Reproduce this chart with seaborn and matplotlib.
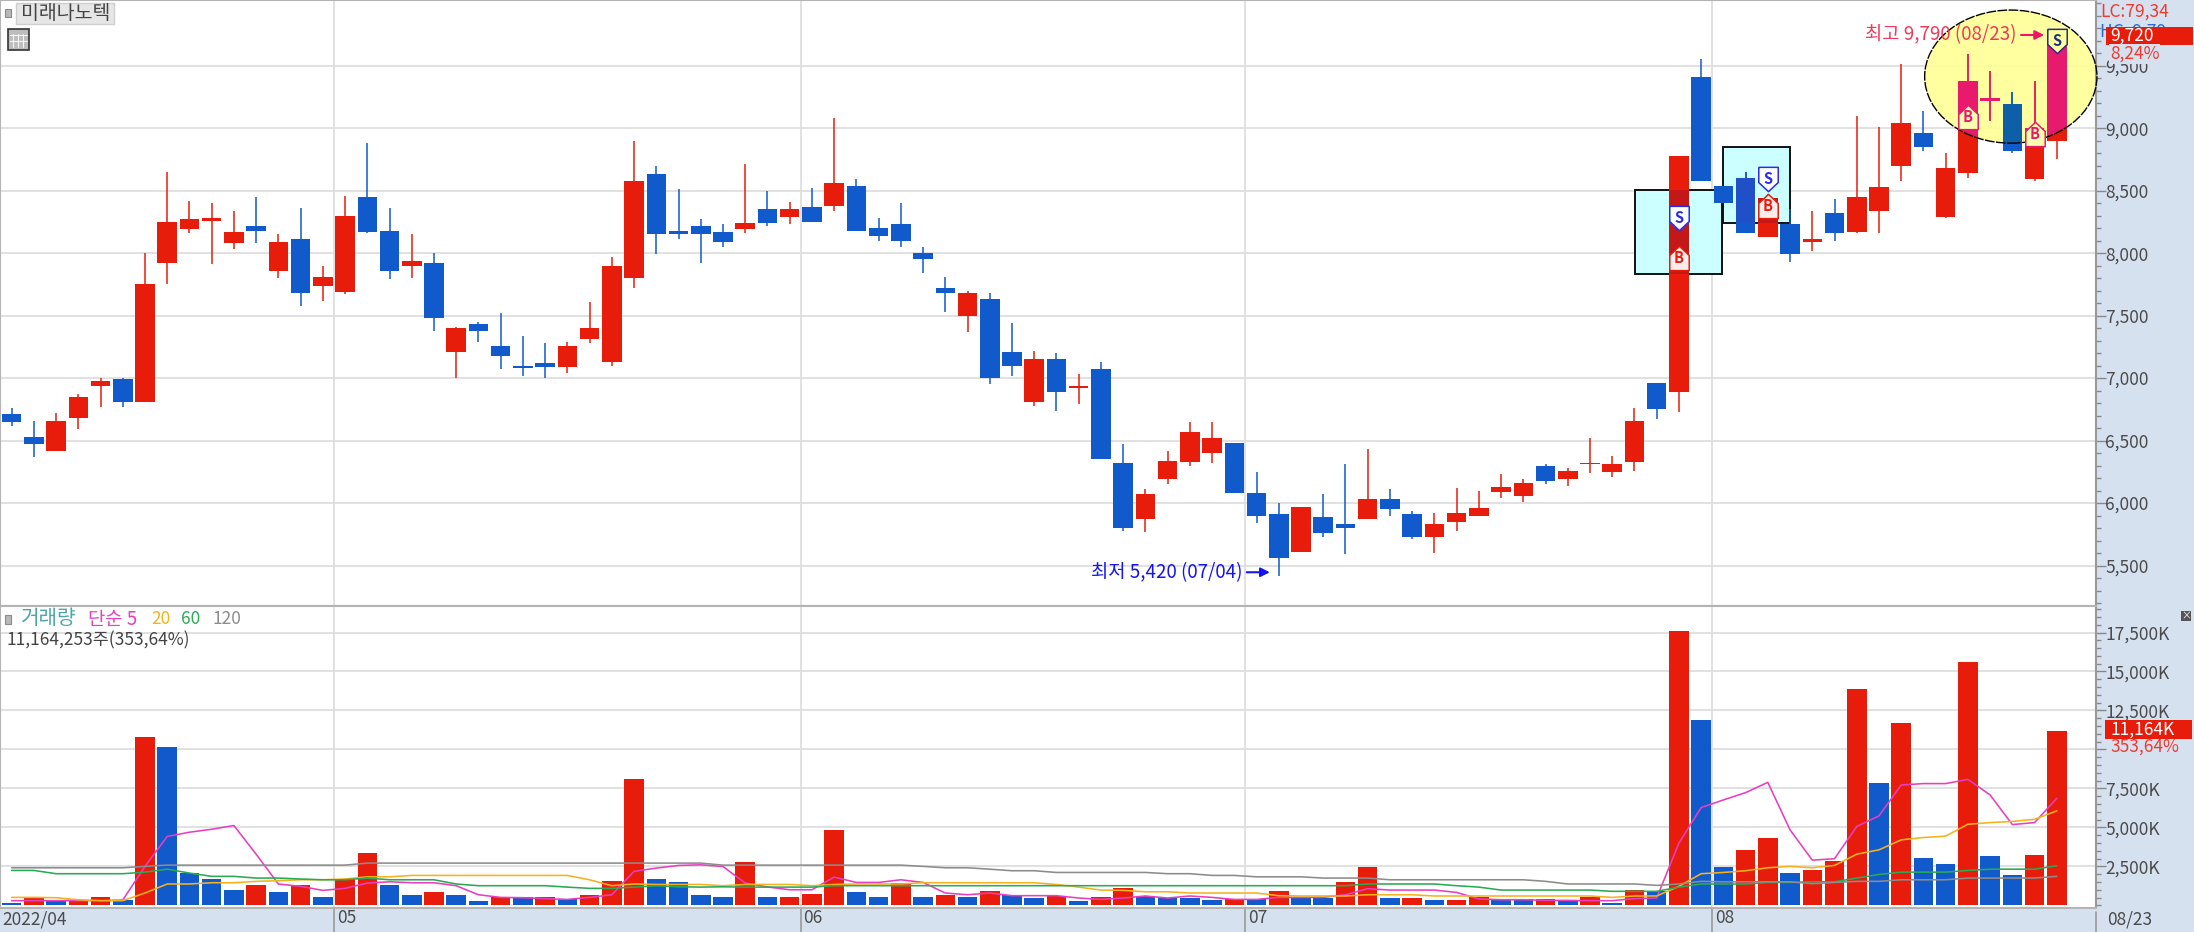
"""
Candlestick and volume chart, seaborn version of the HTS screen
"""

import numpy as np
import pandas as pd
import matplotlib
matplotlib.use('Agg')
import matplotlib.pyplot as plt
import seaborn as sns
from matplotlib.patches import Ellipse, Rectangle
from matplotlib.ticker import MultipleLocator
from matplotlib.transforms import Affine2D, ScaledTranslation

opens = [6710, 6530, 6420, 6680, 6940, 6990, 6810, 7920, 8190, 8260, 8080, 8220, 7860, 8110, 7740, 7690, 8450, 8180, 7900, 7920, 7210, 7430, 7260, 7100, 7120, 7090, 7310, 7130, 7800, 8630, 8180, 8220, 8170,
         8190, 8350, 8290, 8370, 8380, 8540, 8200, 8230, 8000, 7720, 7500, 7630, 7210, 6810, 7150, 6920, 7070, 6320, 5870, 6190, 6330, 6400, 6480, 6080, 5910, 5610, 5890, 5830, 5870, 6030, 5910, 5730, 5850,
         5900, 6090, 6060, 6300, 6190, 6310, 6250, 6330, 6960, 6890, 9410, 8540, 8600, 8130, 8230, 8090, 8320, 8170, 8340, 8700, 8960, 8290, 8640, 9220, 9190, 8590, 8900]
highs = [6760, 6660, 6720, 6870, 7000, 7000, 8000, 8650, 8420, 8400, 8340, 8450, 8150, 8360, 7900, 8460, 8880, 8360, 8150, 8000, 7410, 7450, 7520, 7340, 7280, 7290, 7610, 7970, 8900, 8700, 8510, 8270, 8230,
         8710, 8500, 8410, 8520, 9080, 8590, 8280, 8400, 8050, 7810, 7700, 7680, 7440, 7220, 7200, 7030, 7130, 6470, 6110, 6420, 6650, 6650, 6480, 6250, 6000, 5970, 6070, 6310, 6430, 6110, 5940, 5920, 6120,
         6100, 6230, 6190, 6310, 6280, 6520, 6380, 6760, 6960, 8780, 9550, 8540, 8650, 8470, 8350, 8340, 8430, 9100, 9010, 9510, 9140, 8800, 9590, 9460, 9290, 9380, 9790]
lows = [6620, 6370, 6420, 6590, 6770, 6770, 6810, 7750, 8160, 7910, 8030, 8080, 7800, 7580, 7620, 7670, 8160, 7790, 7800, 7380, 7000, 7290, 7070, 7020, 7000, 7040, 7280, 7100, 7720, 7990, 8110, 7920, 8050,
        8160, 8220, 8230, 8250, 8340, 8180, 8100, 8050, 7840, 7530, 7370, 6950, 7020, 6780, 6740, 6790, 6350, 5780, 5770, 6150, 6300, 6320, 6080, 5840, 5420, 5610, 5730, 5590, 5870, 5900, 5710, 5600, 5780,
        5900, 6040, 6010, 6150, 6140, 6240, 6210, 6260, 6670, 6730, 8580, 8400, 8160, 8130, 7930, 8020, 8100, 8160, 8160, 8580, 8820, 8280, 8600, 9060, 8800, 8580, 8750]
closes = [6650, 6470, 6660, 6850, 6980, 6810, 7750, 8250, 8270, 8280, 8170, 8180, 8090, 7680, 7810, 8300, 8170, 7860, 7940, 7480, 7400, 7380, 7180, 7080, 7090, 7260, 7400, 7900, 8580, 8150, 8150, 8150, 8090,
          8240, 8240, 8350, 8250, 8560, 8180, 8140, 8100, 7950, 7680, 7680, 7000, 7100, 7150, 6890, 6940, 6350, 5800, 6070, 6340, 6570, 6520, 6080, 5900, 5560, 5970, 5760, 5800, 6030, 5950, 5730, 5830, 5920,
          5960, 6130, 6160, 6180, 6260, 6320, 6310, 6660, 6750, 8780, 8580, 8400, 8160, 8440, 7990, 8110, 8160, 8450, 8530, 9040, 8850, 8680, 9380, 9240, 8820, 9000, 9720]

volume_k = [150, 470, 300, 300, 530, 340, 10810, 10150, 2090, 1660, 1000, 1300, 830, 1300, 530, 1660, 3330, 1300, 640, 830, 640, 260, 530, 530, 530, 430, 640, 1580, 8130, 1690, 1490, 640, 530,
            2750, 530, 530, 730, 4860, 830, 530, 1430, 530, 640, 530, 920, 640, 450, 580, 260, 530, 1110, 580, 470, 450, 340, 430, 410, 920, 470, 470, 1490, 2450, 450, 450, 340, 340,
            530, 410, 410, 410, 300, 530, 170, 1000, 900, 17620, 11860, 2450, 3520, 4290, 2070, 2260, 2820, 13890, 7830, 11670, 3030, 2650, 15610, 3140, 1960, 3220, 11164]
red_volume_days = [1, 3, 4, 6, 11, 13, 15, 16, 19, 22, 24, 26, 27, 28,
                   33, 35, 36, 37, 40, 42, 44, 47, 49, 50, 55, 57, 60, 61, 63, 65,
                   66, 69, 71, 73, 75, 78, 79, 81, 82, 83, 85, 88, 91, 92]

ma5 = [300, 300, 300, 300, 300, 340, 2500, 4420, 4690, 4880, 5120, 3280, 1370, 1220, 960, 1090, 1430, 1510, 1450, 1450, 1260, 680, 510, 490, 430, 380, 510, 680, 2180, 2390, 2560, 2600, 2490,
       1430, 1180, 1000, 1000, 1810, 1470, 1470, 1640, 1470, 790, 680, 790, 620, 620, 620, 470, 380, 470, 600, 470, 600, 510, 380, 380, 510, 510, 510, 680, 1070, 980, 980, 980, 830,
       410, 360, 360, 320, 320, 300, 300, 430, 470, 3990, 6270, 6760, 7230, 7890, 4840, 2900, 2990, 5060, 5740, 7720, 7810, 7810, 8080, 7080, 5180, 5310, 6870]
ma20 = [510, 510, 490, 360, 300, 300, 790, 1370, 1370, 1450, 1450, 1540, 1580, 1640, 1640, 1690, 1830, 1830, 1920, 1920, 1920, 1920, 1920, 1920, 1920, 1920, 1640, 1260, 1370, 1340, 1340, 1340, 1260,
        1340, 1340, 1340, 1260, 1340, 1370, 1370, 1370, 1450, 1450, 1450, 1450, 1450, 1450, 1340, 1170, 980, 960, 870, 870, 790, 790, 790, 790, 620, 600, 600, 600, 680, 680, 680, 600, 600,
        600, 600, 600, 600, 600, 600, 510, 600, 600, 1220, 2030, 2110, 2220, 2410, 2500, 2410, 2560, 3280, 3560, 4200, 4350, 4440, 5200, 5310, 5380, 5520, 6060]
ma60 = [2240, 2240, 2030, 2030, 2030, 2030, 2130, 2320, 2070, 1860, 1860, 1750, 1750, 1690, 1640, 1640, 1750, 1640, 1640, 1640, 1370, 1260, 1260, 1260, 1260, 1170, 1090, 1090, 1170, 1260, 1190, 1170, 1190,
        1170, 1170, 1170, 1170, 1260, 1260, 1260, 1260, 1260, 1260, 1260, 1260, 1260, 1260, 1260, 1260, 1260, 1260, 1260, 1260, 1260, 1260, 1260, 1260, 1260, 1260, 1260, 1260, 1370, 1370, 1370, 1370, 1260,
        1170, 980, 980, 980, 980, 980, 900, 900, 900, 1170, 1370, 1370, 1370, 1470, 1470, 1510, 1510, 1750, 1980, 2130, 2130, 2130, 2240, 2320, 2320, 2320, 2540]
ma120 = [2410, 2410, 2410, 2410, 2410, 2410, 2500, 2580, 2580, 2580, 2580, 2580, 2580, 2580, 2580, 2580, 2710, 2710, 2710, 2710, 2710, 2710, 2710, 2710, 2710, 2710, 2710, 2710, 2710, 2710, 2710, 2710, 2580,
         2580, 2580, 2580, 2580, 2580, 2580, 2580, 2580, 2500, 2410, 2410, 2320, 2220, 2220, 2110, 2110, 2110, 2110, 2110, 2030, 2030, 1920, 1920, 1830, 1830, 1830, 1750, 1750, 1750, 1640, 1640, 1640, 1640,
         1640, 1640, 1640, 1540, 1370, 1370, 1370, 1370, 1280, 1370, 1540, 1510, 1510, 1510, 1510, 1390, 1470, 1540, 1540, 1640, 1640, 1640, 1750, 1750, 1750, 1750, 1860]

month_edges = [14.5, 35.5, 55.5, 76.5]
month_labels = ['05', '06', '07', '08']
price_ticks = [5500, 6000, 6500, 7000, 7500, 8000, 8500, 9000, 9500]
volume_ticks = [2500, 5000, 7500, 10000, 12500, 15000, 17500]
# the 10,000K label sits under the last volume tag in the reference
volume_tick_labels = ['2,500K', '5,000K', '7,500K', '', '12,500K', '15,000K', '17,500K']

# signal flags: kind, candle, price at the flag centre
flags = [('S', 75, 8282), ('B', 75, 7964), ('S', 79, 8593), ('B', 79, 8375),
         ('B', 88, 9092), ('B', 91, 8951), ('S', 92, 9699)]

RED = '#E81C0A'
BLUE = '#115ACB'
PINK = '#E81A6E'
STRIP = '#D6E1F0'
GRID = '#DEDEDE'
TEXT = '#4A4A4A'
FONT = ['Noto Sans CJK KR', 'DejaVu Sans']
WIDTH, HEIGHT = 2194, 932


def draw_candles(ax, up, down, zorder, clip=None, only=None):
    """Wicks and bodies, optionally clipped to a shape"""
    x = np.arange(len(opens)) if only is None else np.array(only)
    o, h, l, c = [np.array(v)[x] for v in (opens, highs, lows, closes)]
    colors = [up if b >= a else down for a, b in zip(o, c)]
    wicks = ax.vlines(x, l, h, colors=colors, lw=1.1, zorder=zorder)
    bodies = ax.bar(x, np.abs(c - o), bottom=np.minimum(o, c), width=0.88,
                    color=colors, linewidth=0, zorder=zorder)
    if clip is not None:
        wicks.set_clip_path(clip)
        for body in bodies:
            body.set_clip_path(clip)


def draw_flag(ax, kind, day, price, in_circle):
    """Small pentagon flag with a letter"""
    if kind == 'S':
        verts = [(-0.8, 1), (0.8, 1), (0.8, -0.25), (0, -1), (-0.8, -0.25), (-0.8, 1)]
        edge, fill = ('#1F2F8C', '#FFFF99') if in_circle else ('#2A2AF0', '#FFFFFF')
    else:
        verts = [(-0.8, -1), (0.8, -1), (0.8, 0.25), (0, 1), (-0.8, 0.25), (-0.8, -1)]
        edge, fill = (PINK, '#FFFFB0') if in_circle else (RED, '#FFECEC')
    ax.plot([day], [price], marker=verts, markersize=17.5, markerfacecolor=fill,
            markeredgecolor=edge, markeredgewidth=1.1, linestyle='none', zorder=8)
    ax.text(day, price, kind, color=edge, fontsize=10.5, fontweight='bold',
            ha='center', va='center', zorder=9, family=FONT)


def main():
    sns.set_theme(style='white')
    plt.rcParams['font.family'] = FONT
    plt.rcParams['axes.unicode_minus'] = False

    fig = plt.figure(figsize=(WIDTH / 100, HEIGHT / 100), dpi=100, facecolor=STRIP)
    to_px = Affine2D().scale(1 / WIDTH, -1 / HEIGHT).translate(0, 1) + fig.transFigure

    right = 2095.5 / WIDTH
    ax_p = fig.add_axes([0, 1 - 606 / HEIGHT, right, 606 / HEIGHT])
    ax_v = fig.add_axes([0, 24 / HEIGHT, right, 302 / HEIGHT])

    days = np.arange(len(opens))
    xlim = (-0.522, 93.74)

    # price panel
    ax_p.set_xlim(xlim)
    ax_p.set_ylim(5176, 10026)

    circle = Ellipse((89.93, 9413), 7.75, 1065, facecolor='#FFFF99', edgecolor='none',
                     alpha=0.93, zorder=1.5, clip_on=False)
    ax_p.add_patch(circle)
    ax_p.add_patch(Ellipse((89.93, 9413), 7.75, 1065, facecolor='none', edgecolor='black',
                           linestyle=(0, (7, 1)), lw=1.0, zorder=7, clip_on=False))

    box1 = Rectangle((73.03, 7832), 3.91, 673, facecolor='#CCFFFF', edgecolor='#111111', lw=1.4, zorder=1.6)
    box2 = Rectangle((76.99, 8241), 3.01, 608, facecolor='#CCFFFF', edgecolor='#111111', lw=1.4, zorder=1.6)
    ax_p.add_patch(box1)
    ax_p.add_patch(box2)

    draw_candles(ax_p, RED, BLUE, zorder=3)
    draw_candles(ax_p, '#C41818', BLUE, zorder=4, clip=box1, only=[75])
    draw_candles(ax_p, '#C41818', '#2050C8', zorder=4, clip=box2, only=[78, 79])
    draw_candles(ax_p, PINK, '#0F5FA8', zorder=5, clip=circle, only=[88, 89, 90, 91, 92])

    for kind, day, price in flags:
        draw_flag(ax_p, kind, day, price, day >= 88)

    ax_p.annotate('최고 9,790 (08/23)', xy=(91.43, 9746), xytext=(-20, 0), textcoords='offset points',
                  ha='right', va='center', fontsize=13.5, color='#F03A5A', zorder=10,
                  arrowprops=dict(arrowstyle='-|>', color='#F01464', lw=1.5, shrinkA=1, shrinkB=0))
    ax_p.annotate('최저 5,420 (07/04)', xy=(56.6, 5446), xytext=(-20, 0), textcoords='offset points',
                  ha='right', va='center', fontsize=13.5, color='#1414F0', zorder=10,
                  arrowprops=dict(arrowstyle='-|>', color='#1414F0', lw=1.5, shrinkA=1, shrinkB=0))

    # volume panel
    table = pd.DataFrame({'day': days, 'volume': volume_k,
                          'side': ['up' if d in red_volume_days else 'down' for d in days]})
    sns.barplot(data=table, x='day', y='volume', hue='side', palette={'up': RED, 'down': BLUE},
                native_scale=True, dodge=False, width=0.88, saturation=1, errorbar=None,
                linewidth=0, legend=False, ax=ax_v, zorder=3)
    for series, color in [(ma5, '#E83EC0'), (ma20, '#F5B21E'), (ma60, '#2AAA55'), (ma120, '#8C8C8C')]:
        sns.lineplot(x=days, y=series, color=color, linewidth=1.15, errorbar=None, ax=ax_v, zorder=4)
    ax_v.set_xlim(xlim)
    ax_v.set_ylim(-170, 19200)
    ax_v.set_xlabel('')
    ax_v.set_ylabel('')

    # grids, ticks, frames
    ax_p.set_yticks(price_ticks, [f'{v:,}' for v in price_ticks])
    ax_v.set_yticks(volume_ticks, volume_tick_labels)
    ax_p.yaxis.set_minor_locator(MultipleLocator(100))
    ax_v.yaxis.set_minor_locator(MultipleLocator(500))
    ax_p.set_xticks(month_edges, [''] * 4)
    ax_v.set_xticks(month_edges, month_labels, ha='left')

    for ax in (ax_p, ax_v):
        ax.set_facecolor('white')
        ax.set_axisbelow(True)
        ax.grid(True, which='major', color=GRID, lw=1.3, zorder=1)
        ax.yaxis.tick_right()
        ax.tick_params(axis='y', which='major', right=True, length=7.2, width=1, color='#888888',
                       labelcolor=TEXT, labelsize=12.5, pad=0)
        ax.tick_params(axis='y', which='minor', right=True, length=3.6, width=1, color='#888888')
        for side, spine in ax.spines.items():
            spine.set_visible(True)
            spine.set_color('#B4B4B4')
            spine.set_linewidth(1.5)
        ax.spines['right'].set_color('#999999')

    ax_p.tick_params(axis='x', length=0)
    ax_v.tick_params(axis='x', length=17.3, width=1.2, color='#999999', labelcolor=TEXT,
                     labelsize=12.5, pad=-16.5, bottom=True)
    shift = ScaledTranslation(2 / 72, 0, fig.dpi_scale_trans)
    for label in ax_v.get_xticklabels():
        label.set_transform(label.get_transform() + shift)

    # screen furniture, placed in pixels of the full image
    def label(x, y, text, color, size=12.5, **kw):
        kw.setdefault('zorder', 5)
        return fig.text(x, y, text, color=color, fontsize=size, va='center', transform=to_px, **kw)

    def rect(x, y, w, h, face, edge='none', lw=0, zorder=4):
        fig.add_artist(Rectangle((x, y), w, h, transform=to_px, facecolor=face, edgecolor=edge, lw=lw, zorder=zorder))

    label(2, 920, '2022/04', TEXT)
    label(2107, 920, '08/23', TEXT)
    fig.add_artist(plt.Line2D([2095.5, 2095.5], [912, 932], transform=to_px, color='#999999', lw=1.2))

    rect(5, 9, 6, 8, '#B8B8B8', '#8A8A8A', 0.8)
    rect(16, 3, 98, 21, '#E6E6E6', '#CFCFCF', 1)
    label(21, 13.5, '미래나노텍', '#444444', size=14)
    rect(8, 29, 21, 21, '#BDBDBD', '#333333', 1.2)
    for gx in (13, 18, 23):
        fig.add_artist(plt.Line2D([gx, gx], [34, 47], transform=to_px, color='#F4F4F4', lw=0.8, zorder=5))
    for gy in (35, 41):
        fig.add_artist(plt.Line2D([10, 27], [gy, gy], transform=to_px, color='#F4F4F4', lw=0.8, zorder=5))

    rect(5, 615, 6, 9, '#B8B8B8', '#8A8A8A', 0.8)
    label(21, 619, '거래량', '#4CA6A6', size=14.5)
    label(88, 619, '단순 5', '#E83EC0', size=13.5)
    label(151, 619, '20', '#F5B21E')
    label(181, 619, '60', '#2AAA55')
    label(213, 619, '120', '#8C8C8C')
    label(6, 640, '11,164,253주(353,64%)', '#444444')

    # last price tags on the right strip
    label(2100, 12, 'LC:79,34', '#F03A30', zorder=3)
    label(2100, 32, 'HC: 9,79', '#2A6AD8', zorder=3)
    rect(2105.5, 26.5, 87, 18.5, RED, zorder=4)
    label(2110, 35.5, '9,720', 'white')
    label(2110, 54, '8,24%', '#F03A30',
          bbox=dict(facecolor=STRIP, edgecolor='none', pad=0.5))
    rect(2105, 720, 87, 19, RED, zorder=4)
    label(2110, 729.5, '11,164K', 'white')
    label(2110, 747, '353,64%', '#F03A30')
    rect(2181, 611, 10, 10, '#555555', zorder=4)
    label(2186, 616, '×', 'white', size=7, ha='center')

    fig.savefig('out.png', dpi=100, facecolor=STRIP)
    plt.close(fig)


if __name__ == '__main__':
    main()
